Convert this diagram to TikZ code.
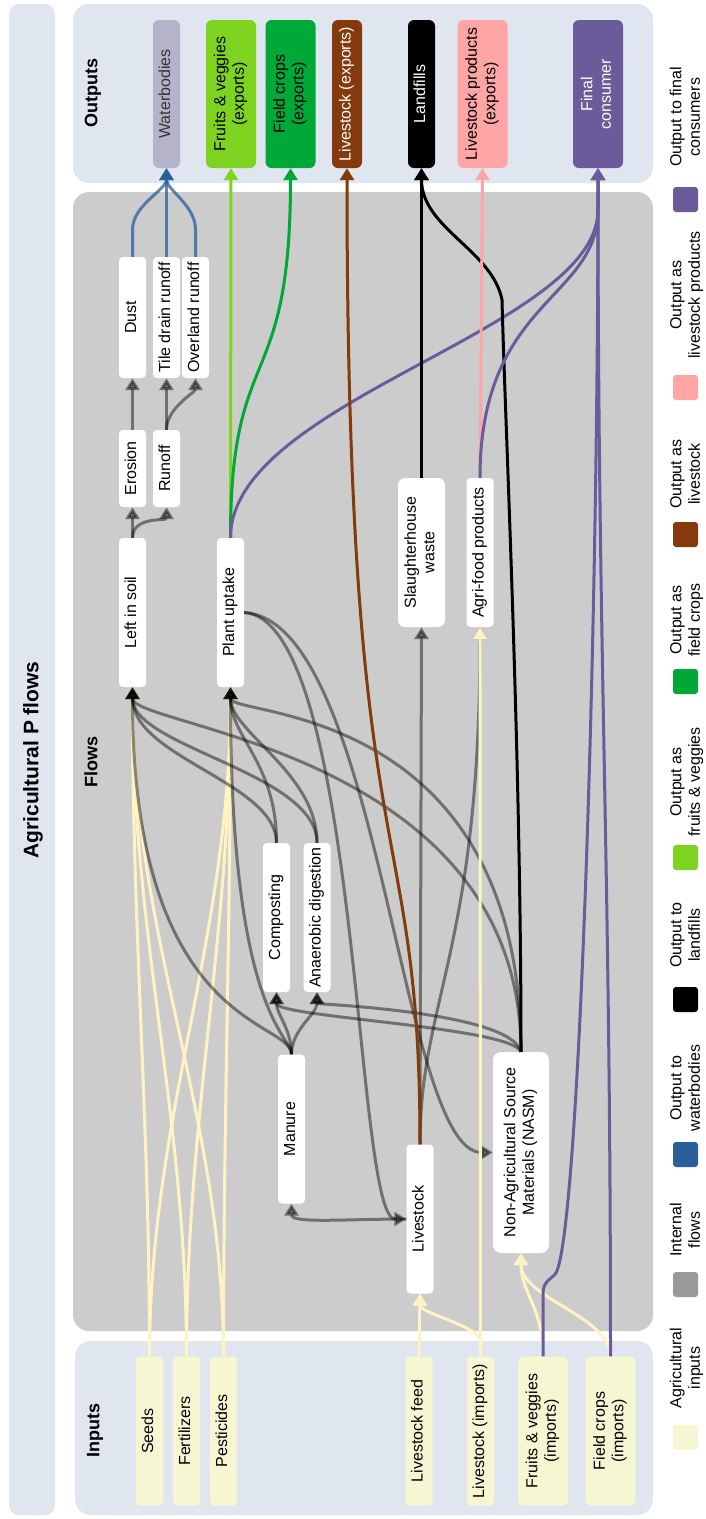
\documentclass[tikz,border=0pt]{standalone}
\usepackage{fontspec}
\setmainfont{Liberation Sans}
\usepackage{graphicx}
\usetikzlibrary{arrows.meta}

\definecolor{panelblue}{HTML}{DFE6EF}
\definecolor{flowgray}{HTML}{CCCCCC}
\definecolor{inputfill}{HTML}{F6F6D2}
\definecolor{inputline}{HTML}{FFF3C4}
\definecolor{waterfill}{HTML}{B5B3C9}
\definecolor{waterblue}{HTML}{2B5F9A}
\definecolor{veggreen}{HTML}{7ED321}
\definecolor{cropgreen}{HTML}{00A838}
\definecolor{stockbrown}{HTML}{843A0C}
\definecolor{prodpink}{HTML}{FFA5A5}
\definecolor{consumerpurple}{HTML}{6B5B9A}
\definecolor{internalgray}{HTML}{999999}

\newcommand{\nodefont}{\fontsize{16}{18.5}\selectfont}
\newcommand{\headfont}{\fontsize{18}{21}\selectfont\bfseries}
\newcommand{\titlefont}{\fontsize{21}{25}\selectfont\bfseries}
\newcommand{\vlabel}[1]{\rotatebox{90}{\begin{tabular}{@{}c@{}}#1\end{tabular}}}

\begin{document}
\begin{tikzpicture}[
  x=1pt,y=-1pt,
  flowbox/.style={fill=white,rounded corners=4pt,inner sep=0pt,minimum width=27pt,minimum height=149pt,font=\nodefont},
  inbox/.style={flowbox,fill=inputfill},
  outbox/.style={flowbox,rounded corners=6pt,minimum height=148pt},
  legsq/.style={fill=#1,rounded corners=3pt,minimum size=25pt,inner sep=0pt},
  legtext/.style={inner sep=0pt,font=\nodefont},
  paneltitle/.style={inner sep=0pt,font=\headfont},
  internal/.style={line width=3pt,opacity=0.45,-{Triangle[length=12pt,width=14pt]}},
  inflow/.style={line width=3pt,draw=inputline,-{Triangle[length=12pt,width=14pt]}},
  outflow/.style={line width=3pt,draw=#1,-{Triangle[length=12pt,width=14pt]}}
]
\useasboundingbox (0,0) rectangle (705,1519);
\fill[panelblue,rounded corners=10pt] (9,4) rectangle (55,1515);
\fill[panelblue,rounded corners=16pt] (73,4) rectangle (653,183);
\fill[flowgray,rounded corners=16pt] (73,192) rectangle (653,1331);
\fill[panelblue,rounded corners=16pt] (75,1341) rectangle (653,1515);

\node[font=\titlefont,inner sep=0pt] (title) at (33,760) {\rotatebox{90}{Agricultural P flows}};
\node[paneltitle] (outlabel) at (93,93) {\rotatebox{90}{Outputs}};
\node[paneltitle] (flowlabel) at (91,762) {\rotatebox{90}{Flows}};
\node[paneltitle] (inlabel) at (95,1430) {\rotatebox{90}{Inputs}};

\node[outbox,fill=waterfill,text=black!80] (water) at (166.5,94) {\vlabel{Waterbodies}};
\node[outbox,fill=veggreen,minimum width=50pt] (fruitsx) at (231,94) {\vlabel{Fruits \& veggies\\(exports)}};
\node[outbox,fill=cropgreen,minimum width=50pt] (fieldx) at (290.5,94) {\vlabel{Field crops\\(exports)}};
\node[outbox,fill=stockbrown,minimum width=30pt,text=white] (livex) at (347,94) {\vlabel{Livestock (exports)}};
\node[outbox,fill=black,text=white] (landfill) at (421.5,94) {\vlabel{Landfills}};
\node[outbox,fill=prodpink,minimum width=50pt] (lprodx) at (482.5,94) {\vlabel{Livestock products\\(exports)}};
\node[outbox,fill=consumerpurple,minimum width=50pt,text=white] (consumer) at (598,94) {\vlabel{Final\\consumer}};

\node[flowbox,minimum height=121pt] (dust) at (132.5,317.5) {\vlabel{Dust}};
\node[flowbox,minimum height=121pt] (tile) at (166.5,317.5) {\vlabel{Tile drain runoff}};
\node[flowbox,minimum height=121pt] (overland) at (195.5,317.5) {\vlabel{Overland runoff}};
\node[flowbox,minimum height=77pt] (erosion) at (132.5,468.5) {\vlabel{Erosion}};
\node[flowbox,minimum height=77pt] (runoff) at (166.5,468.5) {\vlabel{Runoff}};
\node[flowbox] (soil) at (132.5,612.5) {\vlabel{Left in soil}};
\node[flowbox] (uptake) at (230.5,612.5) {\vlabel{Plant uptake}};
\node[flowbox,minimum width=47pt,rounded corners=7pt] (slaughter) at (421.5,552.5) {\vlabel{Slaughterhouse\\waste}};
\node[flowbox] (agri) at (480,552.5) {\vlabel{Agri-food products}};
\node[flowbox] (composting) at (276.5,917.5) {\vlabel{Composting}};
\node[flowbox] (ad) at (317,917.5) {\vlabel{Anaerobic digestion}};
\node[flowbox] (manure) at (291.5,1129) {\vlabel{Manure}};
\node[flowbox] (livestock) at (420,1219) {\vlabel{Livestock}};
\node[flowbox,minimum width=56pt,minimum height=201pt,rounded corners=8pt] (nasm) at (521,1152.5) {\vlabel{Non-Agricultural Source\\Materials (NASM)}};

\node[inbox] (seeds) at (149.5,1431) {\vlabel{Seeds}};
\node[inbox] (fert) at (186.5,1431) {\vlabel{Fertilizers}};
\node[inbox] (pest) at (223.5,1431) {\vlabel{Pesticides}};
\node[inbox] (feed) at (419,1431) {\vlabel{Livestock feed}};
\node[inbox] (limp) at (480.5,1431) {\vlabel{Livestock (imports)}};
\node[inbox,minimum width=50pt,rounded corners=6pt] (fvimp) at (543,1431) {\vlabel{Fruits \& veggies\\(imports)}};
\node[inbox,minimum width=50pt,rounded corners=6pt] (fcimp) at (610.5,1431) {\vlabel{Field crops\\(imports)}};

\draw[inflow] (seeds.north) .. controls +(0,-240) and +(0,250) .. (soil.south);
\draw[inflow] (seeds.north) .. controls +(0,-240) and +(0,250) .. (uptake.south);
\draw[inflow] (fert.north) .. controls +(0,-240) and +(0,250) .. (soil.south);
\draw[inflow] (fert.north) .. controls +(0,-240) and +(0,250) .. (uptake.south);
\draw[inflow] (pest.north) .. controls +(0,-240) and +(0,250) .. (soil.south);
\draw[inflow] (pest.north) .. controls +(0,-240) and +(0,250) .. (uptake.south);

\draw[internal] (soil.north) -- (erosion.south);
\draw[internal] (soil.north) .. controls +(0,-22) and +(0,14) .. (runoff.south);
\draw[internal] (erosion.north) -- (dust.south);
\draw[internal] (runoff.north) -- (tile.south);
\draw[internal] (runoff.north) .. controls +(0,-22) and +(0,14) .. (overland.south);
\draw[internal] (manure.north) .. controls +(0,-35) and +(0,343) .. (soil.south);
\draw[internal] (manure.north) .. controls +(0,-20) and +(0,330) .. (uptake.south);
\draw[internal] (manure.north) .. controls +(0,-25) and +(0,22) .. (composting.south);
\draw[internal] (manure.north) .. controls +(0,-25) and +(0,22) .. (ad.south);
\draw[internal] (composting.north) .. controls +(0,-60) and +(0,70) .. (soil.south);
\draw[internal] (composting.north) .. controls +(0,-80) and +(0,50) .. (uptake.south);
\draw[internal] (ad.north) .. controls +(0,-70) and +(0,60) .. (soil.south);
\draw[internal] (ad.north) .. controls +(0,-70) and +(0,45) .. (uptake.south);
\draw[internal] (nasm.north) .. controls +(0,-300) and +(0,40) .. (soil.south);
\draw[internal] (nasm.north) .. controls +(0,-350) and +(0,30) .. (uptake.south);
\draw[internal] (nasm.north) .. controls +(-10,-25) and +(0,25) .. (composting.south);
\draw[internal] (nasm.north) .. controls +(-10,-40) and +(0,12) .. (ad.south);
\draw[internal] (uptake.east) .. controls +(116,8) and +(-52,0) .. (livestock.west);
\draw[internal] (uptake.east) .. controls +(136,8) and +(-93,0) .. (nasm.west);
\draw[internal] (livestock.west) .. controls +(-60,0) and +(0,20) .. (manure.south);
\draw[internal] (livestock.north) -- (slaughter.south);
\draw[internal] (livestock.north) .. controls +(0,-145) and +(0,323) .. (agri.south);

\draw[inflow] (feed.north) -- (livestock.south);
\draw[inflow] (limp.north) -- ++(0,-15) .. controls +(0,-15) and +(0,20) .. (livestock.south);
\draw[inflow] (limp.north) -- (agri.south);
\draw[inflow] (fvimp.north) .. controls +(0,-50) and +(0,40) .. (nasm.south);
\draw[inflow] (fcimp.north) .. controls +(0,-40) and +(0,45) .. (nasm.south);

\draw[outflow=waterblue,opacity=0.75] (dust.north) -- ++(0,-27) .. controls +(0,-25) and +(0,22) .. (water.south);
\draw[outflow=waterblue,opacity=0.75] (tile.north) -- (water.south);
\draw[outflow=waterblue,opacity=0.75] (overland.north) -- ++(0,-27) .. controls +(0,-25) and +(0,22) .. (water.south);
\draw[outflow=veggreen] (uptake.north) -- (fruitsx.south);
\draw[outflow=cropgreen] (uptake.north) .. controls +(0,-200) and +(0,230) .. (fieldx.south);
\draw[outflow=consumerpurple] (uptake.north) .. controls +(0,-138) and +(0,120) .. ++(367.5,-328) -- (consumer.south);
\draw[outflow=stockbrown] (livestock.north) .. controls +(0,-345) and +(0,730) .. (livex.south);
\draw[outflow=black] (slaughter.north) -- (landfill.south);
\draw[outflow=black] (nasm.north) .. controls +(0,-300) and +(3,120) .. ++(-19,-752) .. controls +(-10,-50) and +(0,60) .. (landfill.south);
\draw[outflow=prodpink] (agri.north) -- (lprodx.south);
\draw[outflow=consumerpurple] (agri.north) .. controls +(0,-178) and +(0,90) .. ++(118,-268) -- (consumer.south);
\draw[outflow=consumerpurple] (fvimp.north) -- ++(0,-62) .. controls +(0,-12) and +(-6,6) .. ++(12,-20) .. controls +(23,-25) and +(0,490) .. (consumer.south);
\draw[outflow=consumerpurple] (fcimp.north) .. controls +(0,-500) and +(0,500) .. (consumer.south);

\node[legsq=inputfill] (leg1) at (685.5,1437) {};
\node[legtext] (legt1) at (687,1368) {\vlabel{Agricultural\\inputs}};
\node[legsq=internalgray] (leg2) at (685.5,1284.5) {};
\node[legtext] (legt2) at (687,1230) {\vlabel{Internal\\flows}};
\node[legsq=waterblue] (leg3) at (685.5,1154.5) {};
\node[legtext] (legt3) at (687,1088) {\vlabel{Output to\\waterbodies}};
\node[legsq=black] (leg4) at (685.5,999.5) {};
\node[legtext] (legt4) at (687,935) {\vlabel{Output to\\landfills}};
\node[legsq=veggreen] (leg5) at (685.5,857.5) {};
\node[legtext] (legt5) at (687,782) {\vlabel{Output as\\fruits \& veggies}};
\node[legsq=cropgreen] (leg6) at (685.5,681.5) {};
\node[legtext] (legt6) at (687,620) {\vlabel{Output as\\field crops}};
\node[legsq=stockbrown] (leg7) at (685.5,534.5) {};
\node[legtext] (legt7) at (687,474) {\vlabel{Output as\\livestock}};
\node[legsq=prodpink] (leg8) at (685.5,387.5) {};
\node[legtext] (legt8) at (687,295) {\vlabel{Output as\\livestock products}};
\node[legsq=consumerpurple] (leg9) at (685.5,199.5) {};
\node[legtext] (legt9) at (687,117) {\vlabel{Output to final\\consumers}};
\end{tikzpicture}
\end{document}
